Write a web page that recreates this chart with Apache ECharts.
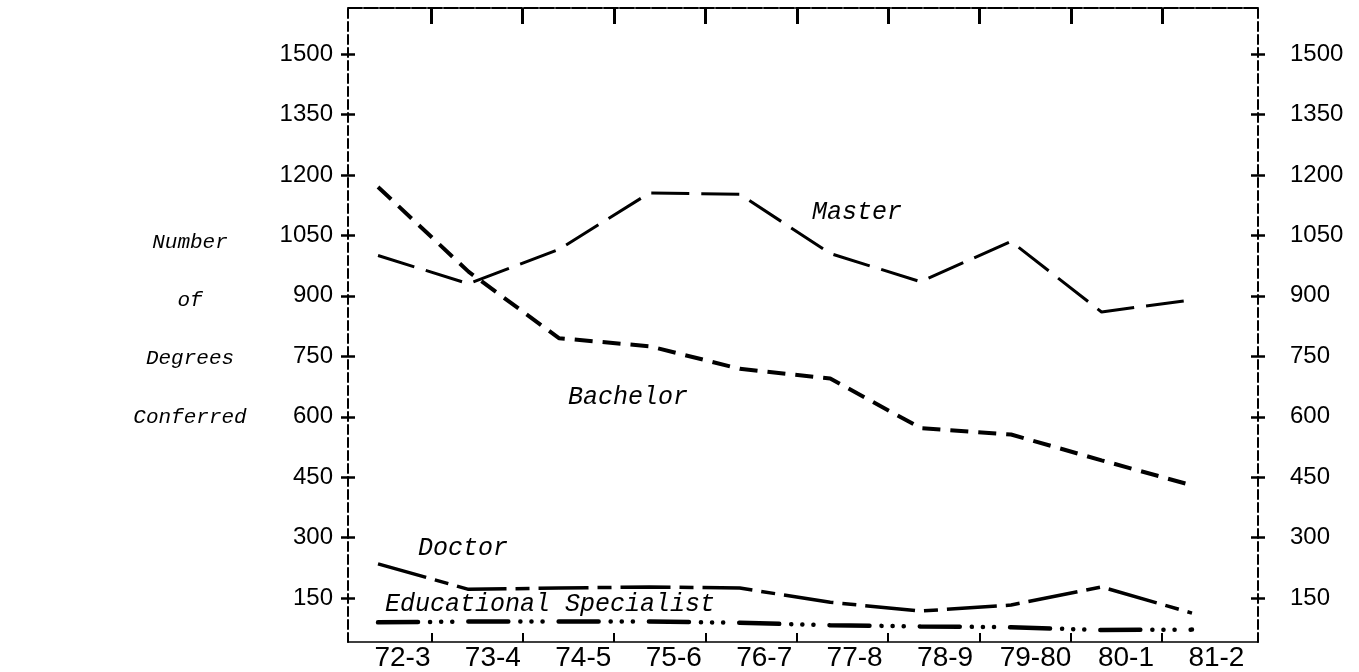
<!DOCTYPE html>
<html>
<head>
<meta charset="utf-8">
<script src="https://cdn.jsdelivr.net/npm/echarts@6/dist/echarts.min.js"></script>
<style>
html,body{margin:0;padding:0;background:#fff;}
#chart{width:1359px;height:672px;}
</style>
</head>
<body>
<div id="chart"></div>
<script>
// ---- data ----
const categories = ['72-3','73-4','74-5','75-6','76-7','77-8','78-9','79-80','80-1','81-2'];
const master     = [1000, 930, 1015, 1155, 1152, 1005, 935, 1035, 860, 890];
const bachelor   = [1170, 960, 795, 775, 719, 695, 572, 556, 492, 430];
const doctor     = [235, 172, 175, 178, 175, 140, 118, 133, 178, 113];
const edSpecialist = [90, 92, 92, 92, 89, 83, 80, 78, 71, 72];
const yTickValues = [150, 300, 450, 600, 750, 900, 1050, 1200, 1350, 1500];
const titleLines = ['Number', 'of', 'Degrees', 'Conferred'];

// ---- layout ----
const X_MIN = -0.332, X_MAX = 9.73;
const Y_MIN = 41.3, Y_MAX = 1614;
const LABEL_SHIFT = 0.27;
const tickVals = categories.slice(0, 9).map((c, i) => i * 1.01 + 0.59);
const labelVals = categories.map((c, i) => i + LABEL_SHIFT);
const mono = '"Liberation Mono", "DejaVu Sans Mono", monospace';
const sans = '"Liberation Sans", Arial, sans-serif';

const pts = arr => arr.map((v, i) => [i, v]);

const chart = echarts.init(document.getElementById('chart'), null, {renderer: 'canvas'});

const yBase = {
  type: 'value', min: Y_MIN, max: Y_MAX,
  splitLine: {show: false}
};
const tickStyle = {color: '#000', width: 2.5};

const option = {
  animation: false,
  backgroundColor: '#fff',
  grid: {left: 348, right: 101, top: 8, bottom: 28, containLabel: false},
  xAxis: [
    {
      type: 'value', position: 'bottom', min: X_MIN, max: X_MAX,
      splitLine: {show: false},
      axisLine: {show: true, onZero: false, lineStyle: {color: '#000', width: 1.5}},
      axisTick: {show: true, inside: true, length: 9, customValues: tickVals, lineStyle: {color: '#000', width: 2}},
      axisLabel: {
        show: true, customValues: labelVals, margin: 2,
        color: '#000', fontFamily: sans, fontSize: 28,
        formatter: v => categories[Math.round(v - LABEL_SHIFT)] || ''
      }
    },
    {
      type: 'value', position: 'top', min: X_MIN, max: X_MAX,
      splitLine: {show: false},
      axisLine: {show: true, onZero: false, lineStyle: {color: '#000', width: 2, type: [14, 2]}},
      axisTick: {show: true, inside: true, length: 16, customValues: tickVals, lineStyle: {color: '#000', width: 3}},
      axisLabel: {show: false}
    }
  ],
  yAxis: [
    Object.assign({}, yBase, {
      position: 'left',
      axisLine: {show: true, onZero: false, lineStyle: {color: '#000', width: 2, type: [9, 4]}},
      axisTick: {show: true, length: 7, customValues: yTickValues, lineStyle: tickStyle},
      axisLabel: {show: true, customValues: yTickValues, margin: 15, color: '#000', fontFamily: sans, fontSize: 24,
                  formatter: v => String(v)}
    }),
    Object.assign({}, yBase, {
      position: 'left',
      axisLine: {show: false, onZero: false},
      axisTick: {show: true, inside: true, length: 7, customValues: yTickValues, lineStyle: tickStyle},
      axisLabel: {show: false}
    }),
    Object.assign({}, yBase, {
      position: 'right',
      axisLine: {show: true, onZero: false, lineStyle: {color: '#000', width: 2, type: [9, 4]}},
      axisTick: {show: true, length: 7, customValues: yTickValues, lineStyle: tickStyle},
      axisLabel: {show: true, customValues: yTickValues, margin: 32, color: '#000', fontFamily: sans, fontSize: 24,
                  formatter: v => String(v)}
    }),
    Object.assign({}, yBase, {
      position: 'right',
      axisLine: {show: false, onZero: false},
      axisTick: {show: true, inside: true, length: 7, customValues: yTickValues, lineStyle: tickStyle},
      axisLabel: {show: false}
    })
  ],
  series: [
    {
      name: 'Master', type: 'line', data: pts(master), symbol: 'none',
      lineStyle: {color: '#000', width: 3, type: [38, 12]}
    },
    {
      name: 'Bachelor', type: 'line', data: pts(bachelor), symbol: 'none',
      lineStyle: {color: '#000', width: 4, type: [18, 10]}
    },
    {
      name: 'Doctor', type: 'line', data: pts(doctor), symbol: 'none',
      lineStyle: {color: '#000', width: 3.5, type: [50, 9, 14, 9]}
    },
    {
      name: 'Educational Specialist', type: 'line', data: pts(edSpecialist), symbol: 'none',
      lineStyle: {color: '#000', width: 4.5, cap: 'round', type: [40, 12, 0.1, 11, 0.1, 11, 0.1, 16]}
    }
  ],
  graphic: [
    {
      type: 'text', x: 190, y: 242 - 29,
      style: {
        text: titleLines.join('\n'),
        fill: '#000', font: 'italic 21px ' + mono,
        textAlign: 'center', textVerticalAlign: 'top', lineHeight: 58.3
      }
    }
  ].concat([
    {t: 'Master', x: 812, y: 212},
    {t: 'Bachelor', x: 568, y: 397},
    {t: 'Doctor', x: 418, y: 548},
    {t: 'Educational Specialist', x: 385, y: 604}
  ].map(a => ({
    type: 'text', x: a.x, y: a.y,
    style: {text: a.t, fill: '#000', font: 'italic 25px ' + mono, textAlign: 'left', textVerticalAlign: 'middle'}
  })))
};

chart.setOption(option);
</script>
</body>
</html>
